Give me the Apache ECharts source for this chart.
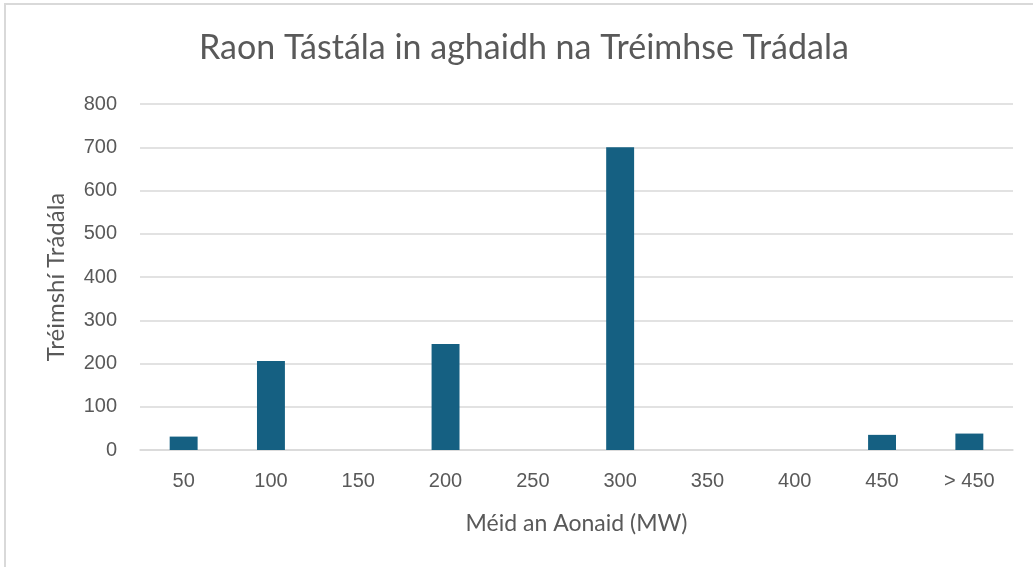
<!DOCTYPE html>
<html>
<head>
<meta charset="utf-8">
<script src="https://cdn.jsdelivr.net/npm/echarts@6/dist/echarts.min.js"></script>
<style>
  html, body { margin: 0; padding: 0; background: #fff; }
  #frame { position: absolute; left: 4px; top: 3px; width: 1029px; height: 564px;
           border-left: 2px solid #d9d9d9; border-top: 2px solid #d9d9d9; }
  #chart { position: absolute; left: 0; top: 0; width: 1033px; height: 567px; }
</style>
</head>
<body>
<div id="frame"></div>
<div id="chart"></div>
<script>
// unit size categories (MW) and trading period counts
var sizeLabels = ['50', '100', '150', '200', '250', '300', '350', '400', '450', '> 450'];
var tradingPeriods = [31, 206, 0, 245, 0, 700, 0, 0, 35, 38];
var yTicks = [0, 800, 100]; // min, max, step

var ecc = echarts.init(document.getElementById('chart'));

var option = {
    animation: false,
    title: {
        text: 'Raon Tástála in aghaidh na Tréimhse Trádala',
        left: 194,
        top: 26,
        textStyle: {
            fontFamily: 'Lato',
            fontSize: 34,
            fontWeight: 'normal',
            color: '#595959'
        }
    },
    grid: {
        left: 140,
        right: 20,
        top: 104,
        bottom: 117,
        containLabel: false
    },
    xAxis: {
        type: 'category',
        data: sizeLabels,
        name: 'Méid an Aonaid (MW)',
        nameLocation: 'middle',
        nameGap: 62,
        nameTextStyle: { fontFamily: 'Lato', fontSize: 23, color: '#595959' },
        axisLine: { lineStyle: { color: '#d9d9d9', width: 1.5 } },
        axisTick: { show: false },
        axisLabel: { margin: 21, fontFamily: 'Liberation Sans', fontSize: 20, color: '#595959' }
    },
    yAxis: {
        type: 'value',
        min: yTicks[0],
        max: yTicks[1],
        interval: yTicks[2],
        name: 'Tréimshí Trádála',
        nameLocation: 'middle',
        nameGap: 72,
        nameTextStyle: { fontFamily: 'Lato', fontSize: 24, color: '#595959' },
        axisLine: { show: false },
        axisTick: { show: false },
        axisLabel: { margin: 23, fontFamily: 'Liberation Sans', fontSize: 20, color: '#595959' },
        splitLine: { lineStyle: { color: '#d9d9d9', width: 1.5 } }
    },
    series: [{
        type: 'bar',
        data: tradingPeriods,
        barWidth: '32%',
        itemStyle: { color: '#156082' }
    }]
};

ecc.setOption(option);
</script>
</body>
</html>
